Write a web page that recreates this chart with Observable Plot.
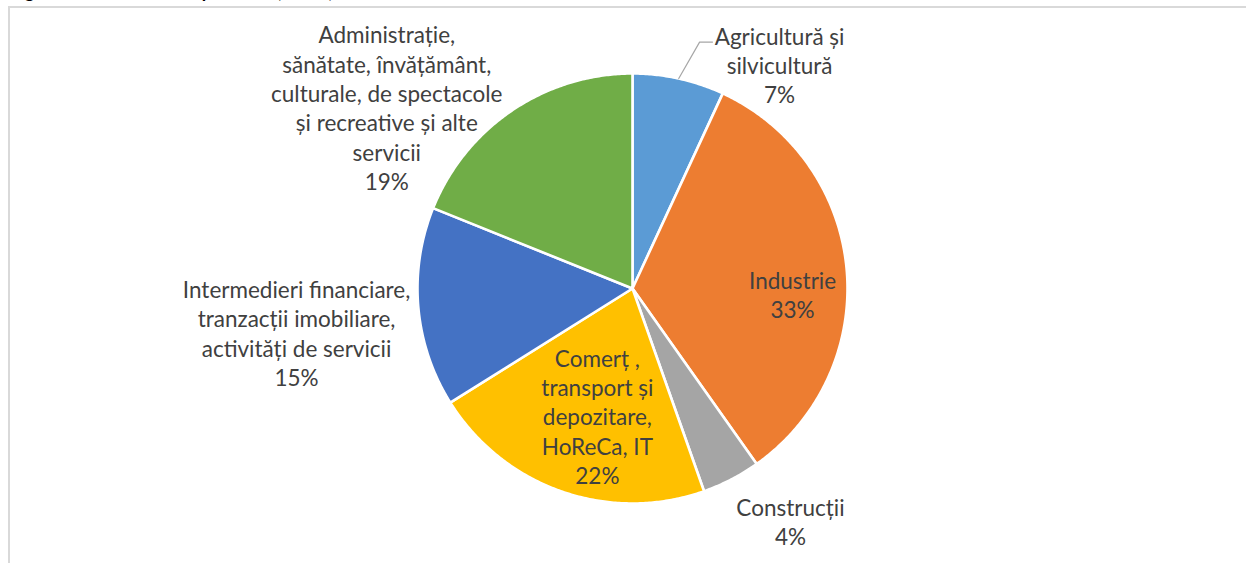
<!DOCTYPE html>
<html>
<head>
<meta charset="utf-8">
<script src="https://cdn.jsdelivr.net/npm/d3@7"></script>
<script src="https://cdn.jsdelivr.net/npm/@observablehq/plot@0.6"></script>
<style>
  html, body { margin: 0; padding: 0; background: #fff; width: 1246px; height: 563px; overflow: hidden; }
  #title { position: absolute; left: 10px; top: -18px; font: bold 18px Lato, sans-serif; line-height: 18px; color: #000; white-space: nowrap; }
  #frame { position: absolute; left: 8px; top: 6px; width: 1300px; height: 620px; border-top: 2px solid #d9d9d9; border-left: 2px solid #d9d9d9; }
  #chart { position: absolute; left: 0; top: 0; }
</style>
</head>
<body>
<div id="title">Figura 3. Structura VAB pe ramuri, 2019, %</div>
<div id="frame"></div>
<div id="chart"></div>
<script>
// Sectors of the economy, clockwise from 12 o'clock
const sectors = [
  "Agricultură și silvicultură",
  "Industrie",
  "Construcții",
  "Comerț , transport și depozitare, HoReCa, IT",
  "Intermedieri financiare, tranzacții imobiliare, activități de servicii",
  "Administrație, sănătate, învățământ, culturale, de spectacole și recreative și alte servicii"
];

// Label text, broken into lines as printed
const labelLines = [
  ["Agricultură și", "silvicultură"],
  ["Industrie"],
  ["Construcții"],
  ["Comerț ,", "transport și", "depozitare,", "HoReCa, IT"],
  ["Intermedieri financiare,", "tranzacții imobiliare,", "activități de servicii"],
  ["Administrație,", "sănătate, învățământ,", "culturale, de spectacole", "și recreative și alte", "servicii"]
];

// Share of gross value added, %
const shares = [6.9, 33.3, 4.4, 21.5, 15.0, 18.9];

const colors = ["#5B9BD5", "#ED7D31", "#A5A5A5", "#FFC000", "#4472C4", "#70AD47"];

// Label placement: [angle from 12 o'clock in degrees, distance in pie radii]
const labelPlacement = [[33.3, 1.246], [92.0, 0.745], [145.8, 1.307], [195.4, 0.615], [262.5, 1.576], [306.4, 1.42]];

// ---- geometry (unit pie radius, y up) ----
const W = 1246, H = 563, CX = 632, CY = 288, R = 215;
const polar = (deg, r) => [r * Math.sin(deg * Math.PI / 180), r * Math.cos(deg * Math.PI / 180)];

const arcs = d3.pie().sort(null).value(d => d)(shares);
const slicePts = [];
arcs.forEach((a, i) => {
  const a0 = a.startAngle * 180 / Math.PI, a1 = a.endAngle * 180 / Math.PI;
  const n = Math.max(2, Math.ceil((a1 - a0) / 0.5));
  slicePts.push({sector: sectors[i], x: 0, y: 0});
  for (let k = 0; k <= n; ++k) {
    const [x, y] = polar(a0 + (a1 - a0) * k / n, 1);
    slicePts.push({sector: sectors[i], x, y});
  }
  slicePts.push({sector: sectors[i], x: 0, y: 0});
});

const labels = arcs.map((a, i) => {
  const [x, y] = polar(labelPlacement[i][0], labelPlacement[i][1]);
  return {sector: sectors[i], x, y, text: [...labelLines[i], `${Math.round(shares[i])}%`].join("\n")};
});

// leader line for the first (small) slice
const mid0 = (arcs[0].startAngle + arcs[0].endAngle) / 2 * 180 / Math.PI;
const [lx, ly] = polar(mid0, 1.0);
const leader = [{x: lx, y: ly}, {x: 0.312, y: 1.146}, {x: 0.372, y: 1.146}];

const chart = Plot.plot({
  width: W,
  height: H,
  margin: 0,
  style: {background: "transparent", overflow: "visible"},
  x: {domain: [-CX / R, (W - CX) / R], axis: null},
  y: {domain: [(CY - H) / R, CY / R], axis: null},
  color: {domain: sectors, range: colors},
  marks: [
    Plot.line(slicePts, {
      x: "x", y: "y", z: "sector", fill: "sector",
      stroke: "white", strokeWidth: 2.6, strokeLinejoin: "round", curve: "linear"
    }),
    Plot.line(leader, {x: "x", y: "y", stroke: "#a6a6a6", strokeWidth: 1.2}),
    Plot.text(labels, {
      x: "x", y: "y", text: "text",
      fontSize: 22.5, lineHeight: 29.3 / 22.5, lineAnchor: "middle",
      fontFamily: "Lato, sans-serif", fill: "#404040"
    })
  ]
});

document.getElementById("chart").appendChild(chart);
</script>
</body>
</html>
